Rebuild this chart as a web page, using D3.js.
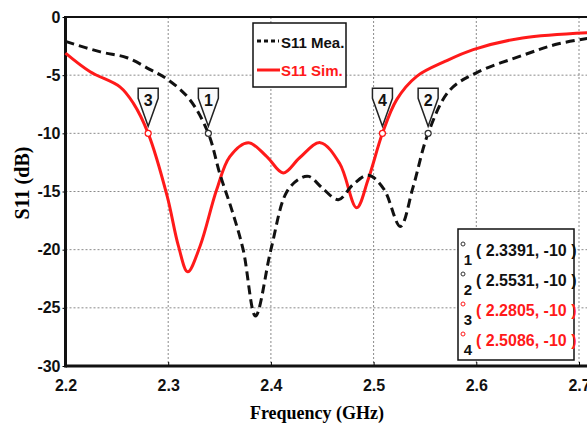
<!DOCTYPE html>
<html>
<head>
<meta charset="utf-8">
<script src="https://cdn.jsdelivr.net/npm/d3@7"></script>
<style>
  body { margin: 0; background: #fff; }
  svg { display: block; }
  .tick text { font-family: "Liberation Sans", Arial, sans-serif; font-weight: bold; font-size: 16px; fill: #111; }
</style>
</head>
<body>
<svg id="chart" width="587" height="423"></svg>
<script>
// measured curve (black dashed)
const freq_mea = [2.2, 2.234, 2.26, 2.282, 2.30, 2.321, 2.3391, 2.35, 2.362, 2.373, 2.385, 2.40, 2.415, 2.428, 2.437, 2.45, 2.4657, 2.48, 2.495, 2.51, 2.526, 2.5385, 2.5531, 2.574, 2.60, 2.645, 2.68, 2.72];
const s11_mea = [-2.1, -3.0, -3.5, -4.5, -5.4, -7.1, -10, -13.4, -16.6, -20, -25.7, -20, -15.1, -13.9, -13.7, -14.7, -15.7, -14.4, -13.6, -14.8, -18, -14.6, -10, -6.3, -4.8, -3.3, -2.3, -1.7];
// simulated curve (red)
const freq_sim = [2.2, 2.224, 2.253, 2.266, 2.2805, 2.299, 2.31, 2.319, 2.331, 2.347, 2.36, 2.378, 2.396, 2.412, 2.428, 2.448, 2.467, 2.4835, 2.4946, 2.5086, 2.5225, 2.542, 2.57, 2.597, 2.645, 2.72];
const s11_sim = [-3.1, -4.7, -6.0, -7.4, -10, -15.4, -19.7, -21.9, -19.7, -14.9, -12, -10.8, -12, -13.4, -12.1, -10.8, -12.6, -16.4, -14, -10, -7.1, -5.1, -3.8, -2.8, -1.8, -1.3];

// markers at -10 dB
const marker_ids = ['1', '2', '3', '4'];
const marker_freq = [2.3391, 2.5531, 2.2805, 2.5086];
const marker_s11 = [-10, -10, -10, -10];
const marker_series = ['mea', 'mea', 'sim', 'sim'];

const x_ticks = [2.2, 2.3, 2.4, 2.5, 2.6, 2.7];
const y_ticks = [0, -5, -10, -15, -20, -25, -30];
const legend_labels = ['S11 Mea.', 'S11 Sim.'];

const RED = '#ff1a1a';
const margin = { top: 17, left: 65.5, bottom: 57 };
const svg = d3.select('#chart');
const height = 423 - margin.top - margin.bottom;

const x_scale = d3.scaleLinear().domain([2.2, 2.75]).range([margin.left, margin.left + 0.55 * 1027]);
const y_scale = d3.scaleLinear().domain([-30, 0]).range([margin.top + height, margin.top]);

// grid
const grid = svg.append('g').attr('stroke', '#8a8a8a').attr('stroke-width', 1).attr('stroke-dasharray', '2,2');
grid.selectAll('.gx').data(x_ticks.slice(1)).enter().append('line')
    .attr('x1', d => x_scale(d)).attr('x2', d => x_scale(d))
    .attr('y1', margin.top).attr('y2', margin.top + height);
grid.selectAll('.gy').data(y_ticks.slice(1, -1)).enter().append('line')
    .attr('x1', margin.left).attr('x2', 587)
    .attr('y1', d => y_scale(d)).attr('y2', d => y_scale(d));

// axes
const x_axis = d3.axisBottom(x_scale).tickValues(x_ticks).tickFormat(d => d.toFixed(1))
    .tickSizeInner(-4).tickSizeOuter(0).tickPadding(14);
svg.append('g').attr('transform', `translate(0, ${margin.top + height})`).call(x_axis)
    .call(g => g.select('.domain').remove());
const y_axis = d3.axisLeft(y_scale).tickValues(y_ticks).tickFormat(d => String(d))
    .tickSizeInner(3).tickSizeOuter(0).tickPadding(2);
svg.append('g').attr('transform', `translate(${margin.left}, 0)`).call(y_axis)
    .call(g => g.select('.domain').remove());

// frame
svg.append('line').attr('x1', margin.left).attr('x2', 587).attr('y1', margin.top).attr('y2', margin.top)
    .attr('stroke', '#111').attr('stroke-width', 2);
svg.append('line').attr('x1', margin.left).attr('x2', margin.left).attr('y1', margin.top - 1).attr('y2', margin.top + height + 1.5)
    .attr('stroke', '#111').attr('stroke-width', 3);
svg.append('line').attr('x1', margin.left).attr('x2', 587).attr('y1', margin.top + height).attr('y2', margin.top + height)
    .attr('stroke', '#111').attr('stroke-width', 3);

// axis titles
svg.append('text').attr('x', 317).attr('y', 419).attr('text-anchor', 'middle')
    .style('font-family', '"Liberation Serif", "Times New Roman", serif').style('font-weight', 'bold').style('font-size', '18px')
    .text('Frequency (GHz)');
svg.append('text').attr('transform', 'translate(29, 183) rotate(-90)').attr('text-anchor', 'middle')
    .style('font-family', '"Liberation Serif", "Times New Roman", serif').style('font-weight', 'bold').style('font-size', '20px')
    .text('S11 (dB)');

// curves
const line = d3.line().x(d => x_scale(d[0])).y(d => y_scale(d[1])).curve(d3.curveCatmullRom.alpha(0.5));
svg.append('path').datum(d3.zip(freq_sim, s11_sim)).attr('d', line)
    .attr('fill', 'none').attr('stroke', RED).attr('stroke-width', 3);
svg.append('path').datum(d3.zip(freq_mea, s11_mea)).attr('d', line)
    .attr('fill', 'none').attr('stroke', '#111').attr('stroke-width', 3).attr('stroke-dasharray', '9,5');

// marker flags
const markers = marker_ids.map((id, i) => ({ id, f: marker_freq[i], s: marker_s11[i], series: marker_series[i] }));
const flag = svg.selectAll('.flag').data(markers).enter().append('g')
    .attr('transform', d => `translate(${x_scale(d.f)}, ${y_scale(d.s)})`);
flag.append('path').attr('d', 'M-10,-45 L10,-45 L10,-35 L0,-7 L-10,-35 Z')
    .attr('fill', '#fafafa').attr('stroke', '#222').attr('stroke-width', 1.5);
flag.append('text').attr('y', -27).attr('text-anchor', 'middle')
    .style('font-family', '"Liberation Sans Narrow", "Liberation Sans", Arial, sans-serif').style('font-weight', 'bold').style('font-size', '16px')
    .attr('fill', '#111').text(d => d.id);
flag.append('circle').attr('r', 3).attr('fill', '#fff')
    .attr('stroke', d => d.series === 'sim' ? RED : '#333').attr('stroke-width', 1.3);

// legend
const legend = svg.append('g');
legend.append('rect').attr('x', 253).attr('y', 23).attr('width', 93).attr('height', 64)
    .attr('fill', '#fff').attr('stroke', '#111').attr('stroke-width', 1.5);
legend.append('line').attr('x1', 257).attr('x2', 279).attr('y1', 41).attr('y2', 41)
    .attr('stroke', '#111').attr('stroke-width', 3).attr('stroke-dasharray', '4,3');
legend.append('line').attr('x1', 257).attr('x2', 280).attr('y1', 70).attr('y2', 70)
    .attr('stroke', RED).attr('stroke-width', 3);
legend.selectAll('.lt').data(legend_labels).enter().append('text')
    .attr('x', 281).attr('y', (d, i) => i === 0 ? 48 : 76)
    .attr('fill', (d, i) => i === 0 ? '#111' : RED)
    .style('font-family', '"Liberation Sans", Arial, sans-serif').style('font-weight', 'bold').style('font-size', '15px')
    .text(d => d);

// marker readout box
const box = svg.append('g');
box.append('rect').attr('x', 458).attr('y', 229).attr('width', 116).attr('height', 131)
    .attr('fill', '#fff').attr('stroke', '#111').attr('stroke-width', 1.5);
const rows = box.selectAll('.row').data(markers).enter().append('g')
    .attr('transform', (d, i) => `translate(0, ${256 + i * 30})`);
rows.append('circle').attr('cx', 463).attr('cy', -12).attr('r', 2)
    .attr('fill', 'none').attr('stroke', d => d.series === 'sim' ? RED : '#333').attr('stroke-width', 1);
rows.append('text').attr('x', 468).attr('y', 9).attr('text-anchor', 'middle')
    .style('font-family', '"Liberation Sans", Arial, sans-serif').style('font-weight', 'bold').style('font-size', '15px')
    .attr('fill', '#111').text(d => d.id);
rows.append('text').attr('x', 476).attr('y', 0)
    .style('font-family', '"Liberation Sans", Arial, sans-serif').style('font-weight', 'bold').style('font-size', '16px')
    .attr('fill', d => d.series === 'sim' ? RED : '#111')
    .text(d => `( ${d.f.toFixed(4)}, ${d.s} )`);
</script>
</body>
</html>
